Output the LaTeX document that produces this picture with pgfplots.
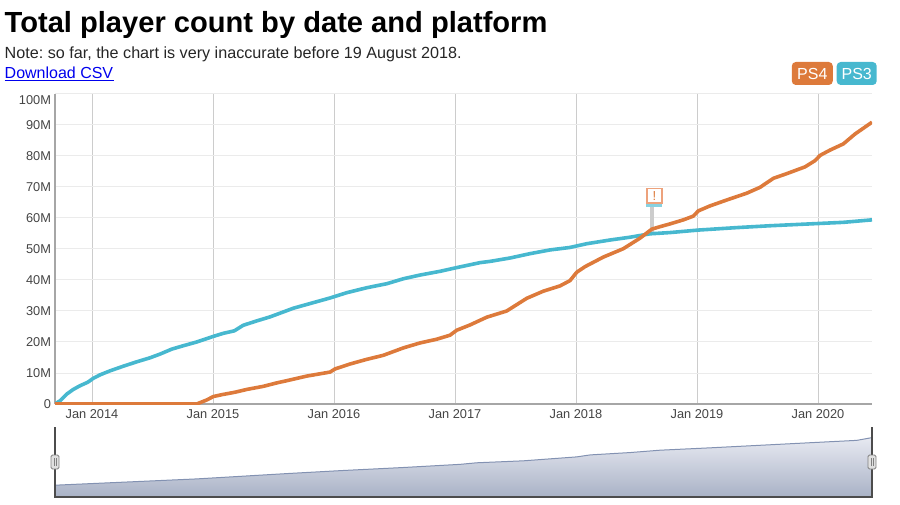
\documentclass[border=0pt]{standalone}
\usepackage{fontspec}
\setmainfont{Liberation Sans}
\usepackage{pgfplots}
\pgfplotsset{compat=1.18}
\definecolor{psfour}{HTML}{DD7A3B}
\definecolor{psthree}{HTML}{47B8CF}
\definecolor{flagedge}{HTML}{EDA27C}
\definecolor{navline}{HTML}{8392B2}
\definecolor{navtop}{HTML}{E7E9F1}
\definecolor{navbottom}{HTML}{A9B2C6}
\definecolor{tickgrey}{HTML}{444444}
\frenchspacing
\begin{document}
\begin{tikzpicture}
\path[use as bounding box] (0pt,0pt) rectangle (900pt,504pt);
% page text, baseline positions in px from the top
\node[anchor=base west,inner sep=0pt,font=\fontsize{29.1pt}{31pt}\bfseries] at (4.5pt,471pt) {Total player count by date and platform};
\node[anchor=base west,inner sep=0pt,font=\fontsize{16.15pt}{18pt}\selectfont,text=black!85] at (4.5pt,445pt) {Note: so far, the chart is very inaccurate before 19 August 2018.};
\node[anchor=base west,inner sep=0pt,font=\fontsize{16pt}{18pt}\selectfont,text=blue!93!black] at (4.5pt,425pt) {Download CSV};
\draw[blue!93!black,line width=1pt] (4.5pt,423pt) -- (114pt,423pt);
% legend badges
\node[anchor=center,minimum width=41pt,minimum height=23pt,inner sep=0pt,fill=psfour,rounded corners=4pt,text=white,font=\fontsize{16pt}{18pt}\selectfont] at (812.3pt,430.5pt) {PS4};
\node[anchor=center,minimum width=40pt,minimum height=23pt,inner sep=0pt,fill=psthree,rounded corners=4pt,text=white,font=\fontsize{16pt}{18pt}\selectfont] at (856.7pt,430.5pt) {PS3};
\begin{axis}[
    at={(55pt,100pt)},
    anchor=south west,
    scale only axis,
    width=817pt,
    height=310pt,
    xmin=2013.694, xmax=2020.446,
    ymin=0, ymax=100,
    axis lines=left,
    axis line style={-,color=black!35,line width=1.2pt},
    major tick length=0pt,
    xtick={2014,2015,2016,2017,2018,2019,2020},
    xticklabels={Jan 2014,Jan 2015,Jan 2016,Jan 2017,Jan 2018,Jan 2019,Jan 2020},
    ytick={0,10,20,30,40,50,60,70,80,90},
    yticklabels={0,10M,20M,30M,40M,50M,60M,70M,80M,90M},
    extra y ticks={100},
    extra y tick labels={100M},
    extra y tick style={yticklabel style={yshift=-6pt},grid=major},
    grid=major,
    x grid style={color=black!20,line width=1pt},
    y grid style={color=black!8,line width=1pt},
    tick label style={font=\fontsize{12.8pt}{14pt}\selectfont,text=tickgrey},
    xticklabel style={yshift=-2.5pt},
    yticklabel style={xshift=-0.5pt},
]
\addplot[color=black!20,line width=4pt] coordinates {(2018.63,55)(2018.63,63.4)};
\addplot[color=psthree,line width=3.6pt,line join=round] coordinates {
(2013.694,0)(2013.736,1.06)(2013.791,3.2)(2013.845,4.7)(2013.901,5.9)(2013.964,7.0)
(2014.011,8.3)(2014.066,9.4)(2014.149,10.7)(2014.259,12.2)(2014.369,13.6)(2014.479,14.9)
(2014.562,16.1)(2014.659,17.7)(2014.755,18.8)(2014.865,20.0)(2015.002,21.8)(2015.085,22.8)
(2015.176,23.6)(2015.250,25.4)(2015.361,26.8)(2015.471,28.1)(2015.554,29.3)(2015.664,30.9)
(2015.829,32.7)(2015.967,34.2)(2016.105,35.9)(2016.270,37.5)(2016.436,38.8)(2016.573,40.4)
(2016.711,41.6)(2016.876,42.8)(2017.014,44.0)(2017.207,45.6)(2017.289,46.0)(2017.455,47.1)
(2017.620,48.5)(2017.785,49.7)(2017.950,50.5)(2018.088,51.7)(2018.281,52.9)(2018.446,53.8)
(2018.612,54.9)(2018.777,55.3)(2019.008,56.1)(2019.328,56.9)(2019.603,57.5)(2019.989,58.2)
(2020.209,58.6)(2020.446,59.4)};
\addplot[color=psfour,line width=3.6pt,line join=round] coordinates {
(2013.694,0)(2014.865,0)(2014.948,1.3)(2015.002,2.4)(2015.072,3.0)(2015.182,3.8)
(2015.279,4.7)(2015.416,5.7)(2015.526,6.8)(2015.630,7.7)(2015.774,9.0)(2015.967,10.3)
(2016.008,11.3)(2016.132,12.9)(2016.270,14.4)(2016.407,15.7)(2016.573,18.1)(2016.711,19.7)
(2016.849,20.9)(2016.959,22.2)(2017.014,23.8)(2017.124,25.5)(2017.262,28.0)(2017.427,30.0)
(2017.593,34.1)(2017.730,36.4)(2017.868,38.1)(2017.950,39.8)(2018.006,42.5)(2018.074,44.3)
(2018.226,47.4)(2018.391,50.1)(2018.529,53.5)(2018.626,56.4)(2018.694,57.2)(2018.777,58.1)
(2018.887,59.4)(2018.969,60.6)(2019.011,62.3)(2019.107,63.9)(2019.245,65.8)(2019.411,68.0)
(2019.521,69.9)(2019.631,72.8)(2019.741,74.3)(2019.893,76.5)(2019.975,78.5)(2020.017,80.2)
(2020.099,81.9)(2020.209,83.9)(2020.306,87.1)(2020.446,90.9)};
\end{axis}
% flag on the 19 August 2018 annotation
\fill[psthree!65] (646.4pt,296.6pt) rectangle (662.4pt,300.4pt);
\node[anchor=south,inner sep=0pt,minimum width=15pt,minimum height=14.4pt,fill=white,draw=flagedge,line width=1.2pt,text=psfour,font=\fontsize{13pt}{14pt}\selectfont] at (654.4pt,300.4pt) {!};
% range selector
\begin{axis}[
    at={(55pt,7pt)},
    anchor=south west,
    scale only axis,
    width=817pt,
    height=70pt,
    xmin=2013.694, xmax=2020.446,
    ymin=0, ymax=178,
    hide axis,
]
\addplot[draw=navline,line width=1pt,top color=navtop,bottom color=navbottom] coordinates {
(2013.694,30)(2014.865,46)(2015.636,60)(2016.050,67)(2016.573,75)(2017.041,83)
(2017.179,87)(2017.565,92)(2018.006,102)(2018.116,107)(2018.446,113)(2018.694,119)
(2019.107,125)(2019.934,138)(2020.320,144)(2020.446,151)} \closedcycle;
\end{axis}
\draw[black!70,line width=1.2pt] (55pt,77pt) -- (55pt,7pt) -- (872pt,7pt) -- (872pt,77pt);
\draw[black!50,fill=black!12,rounded corners=1.5pt,line width=0.9pt] (51pt,35pt) rectangle (59pt,49pt);
\draw[black!50,line width=0.6pt] (54pt,38pt) -- (54pt,46pt) (56pt,38pt) -- (56pt,46pt);
\draw[black!50,fill=black!12,rounded corners=1.5pt,line width=0.9pt] (868pt,35pt) rectangle (876pt,49pt);
\draw[black!50,line width=0.6pt] (871pt,38pt) -- (871pt,46pt) (873pt,38pt) -- (873pt,46pt);
\end{tikzpicture}
\end{document}
